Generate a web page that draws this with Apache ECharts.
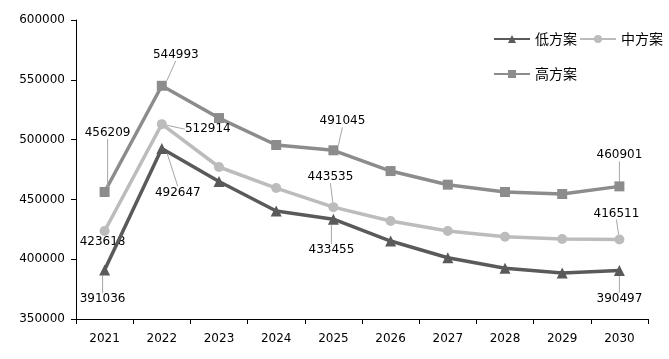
<!DOCTYPE html>
<html><head><meta charset="utf-8">
<script src="https://cdn.jsdelivr.net/npm/echarts@6/dist/echarts.min.js"></script>
<style>html,body{margin:0;padding:0;background:#fff}#c{width:669px;height:359px}</style>
</head><body><div id="c"></div>
<script>
var years = ['2021','2022','2023','2024','2025','2026','2027','2028','2029','2030'];
var lowPlan  = [391036, 492647, 465000, 440300, 433455, 415200, 401200, 392400, 388500, 390497];
var midPlan  = [423618, 512914, 477100, 459500, 443535, 432000, 423600, 418700, 416900, 416511];
var highPlan = [456209, 544993, 518000, 495500, 491045, 473700, 462300, 456200, 454500, 460901];
var yTicks = [350000, 400000, 450000, 500000, 550000, 600000];
var labelled = [0, 1, 4, 9];

// label offsets (pixels) for labelled points, per series
var offs = {
  low:  {0:[-2,29], 1:[16,44], 4:[-2,31], 9:[0,28]},
  mid:  {0:[-2,11], 1:[46,5],  4:[-3,-30], 9:[-3,-26]},
  high: {0:[3,-59], 1:[14,-31], 4:[9,-29], 9:[0,-31]}
};
var font = 'DejaVu Sans';
function mk(vals){
  return vals.map(function(v,i){
    if (labelled.indexOf(i) >= 0) {
      return {value:v, label:{show:true}, labelLine:{show:true}};
    }
    return {value:v};
  });
}
function series(name, vals, color, symbol, size, key){
  return {
    name:name, type:'line', data:mk(vals), symbol:symbol, symbolSize:size,
    lineStyle:{color:color, width:3.5}, itemStyle:{color:color},
    label:{show:false, position:'inside', color:'#000', fontFamily:font, fontSize:12,
      formatter:function(p){return String(p.value);}},
    labelLine:{show:false, lineStyle:{color:'#a6a6a6', width:1}},
    labelLayout:function(p){
      var o = offs[key][p.dataIndex];
      if (!o) return {};
      return {dx:o[0], dy:o[1]};
    },
    animation:false, z: key==='low'?4:(key==='mid'?3:2)
  };
}
var legendText = {fontFamily:'Noto Sans CJK SC', fontSize:14, color:'#000'};
var chart = echarts.init(document.getElementById('c'));
chart.setOption({
  animation:false,
  backgroundColor:'#fff',
  grid:{left:76, right:21, top:20, bottom:40},
  legend:[
    {data:['低方案','中方案'], orient:'horizontal', left:488, top:27, width:200,
     itemWidth:36, itemHeight:10, itemGap:2, textStyle:legendText},
    {data:['高方案'], orient:'horizontal', left:488, top:62, width:200,
     itemWidth:36, itemHeight:10, textStyle:legendText}
  ],
  xAxis:{type:'category', data:years, boundaryGap:true,
    axisLine:{lineStyle:{color:'#000', width:1}},
    axisTick:{show:true, length:5, interval:0, lineStyle:{color:'#000'}},
    axisLabel:{color:'#000', fontFamily:font, fontSize:12, margin:14}},
  yAxis:{type:'value', min:yTicks[0], max:yTicks[yTicks.length-1], interval:50000,
    axisLine:{show:true, lineStyle:{color:'#000', width:1}},
    axisTick:{show:true, length:5, lineStyle:{color:'#000'}},
    splitLine:{show:false},
    axisLabel:{color:'#000', fontFamily:font, fontSize:12, margin:11,
      formatter:function(v){return String(v);}}},
  series:[
    series('低方案', lowPlan, '#5a5a5a', 'triangle', 11, 'low'),
    series('中方案', midPlan, '#bcbcbc', 'circle', 10, 'mid'),
    series('高方案', highPlan, '#8c8c8c', 'rect', 10, 'high')
  ]
});
</script></body></html>
